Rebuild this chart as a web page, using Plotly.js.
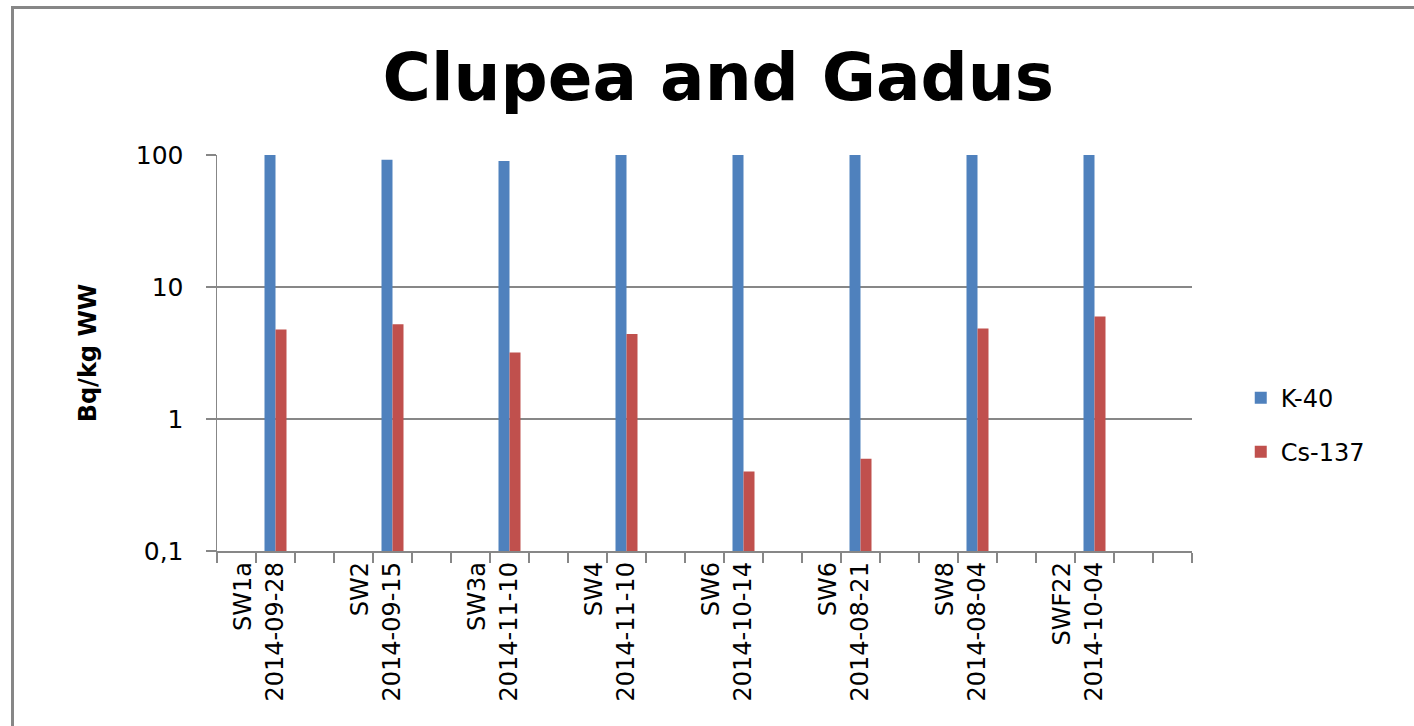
<!DOCTYPE html>
<html>
<head>
<meta charset="utf-8">
<script src="https://cdn.plot.ly/plotly-3.0.1.min.js"></script>
<style>
html, body { margin: 0; padding: 0; background: #fff; overflow: hidden; }
#wrap { position: relative; width: 1414px; height: 726px; }
#chart { position: absolute; left: 0; top: 0; width: 1414px; height: 726px; }
#frame { position: absolute; left: 11px; top: 6px; width: 2000px; height: 2000px; border: 3px solid #878787; pointer-events: none; }
</style>
</head>
<body>
<div id="wrap">
  <div id="chart"></div>
  <div id="frame"></div>
</div>
<script>
// ---- data ----
const sites = ["SW1a", "SW2", "SW3a", "SW4", "SW6", "SW6", "SW8", "SWF22"];
const dates = ["2014-09-28", "2014-09-15", "2014-11-10", "2014-11-10", "2014-10-14", "2014-08-21", "2014-08-04", "2014-10-04"];
const k40   = [110, 92, 90, 115, 120, 118, 105, 112];
const cs137 = [4.76, 5.22, 3.19, 4.41, 0.40, 0.50, 4.85, 5.97];
const seriesNames = ["K-40", "Cs-137"];
const seriesColors = ["#4F81BD", "#C0504D"];
const yTickVals = [0.1, 1, 10, 100];
const yTickText = ["0,1", "1", "10", "100"];
const chartTitle = "Clupea and Gadus";
const yTitle = "Bq/kg WW";

// category slots: each sample occupies one slot, followed by empty slots
const slotsPerGroup = 3;
const totalSlots = 25;
const xPos = sites.map((s, i) => i * slotsPerGroup + 1);
const tickLabels = sites.map((s, i) => s + "<br>" + dates[i]);

const FONT = "DejaVu Sans, sans-serif";
const GRID = "#878787";

const traces = [
  { type: "bar", x: xPos, y: k40, name: seriesNames[0], legendgroup: "a",
    marker: { color: seriesColors[0] } },
  { type: "bar", x: xPos, y: cs137, name: seriesNames[1], legendgroup: "b",
    marker: { color: seriesColors[1] } }
];

const layout = {
  width: 1414, height: 726,
  margin: { l: 217, r: 222, t: 155, b: 175, pad: 0 },
  paper_bgcolor: "#ffffff", plot_bgcolor: "#ffffff",
  font: { family: FONT, color: "#000000", size: 24 },
  title: { text: "<b>" + chartTitle + "</b>", font: { family: FONT, size: 66, color: "#000" },
           x: 0.508, xanchor: "center", y: 1 - 77 / 726, yref: "container", yanchor: "middle" },
  barmode: "group", bargap: 0.812, bargroupgap: 0,
  showlegend: true,
  legend: { x: 1.05, xanchor: "left", y: 0.443, yanchor: "top", tracegroupgap: 20,
            font: { family: FONT, size: 24, color: "#000" }, bgcolor: "rgba(0,0,0,0)" },
  xaxis: {
    type: "linear", range: [-0.5, totalSlots - 0.5], fixedrange: true,
    tickmode: "array", tickvals: xPos.map(v => v - 0.42), ticktext: tickLabels,
    tickangle: -90, ticks: "", showgrid: false, zeroline: false,
    showline: true, linecolor: GRID, linewidth: 1.5,
    tickfont: { family: FONT, size: 24, color: "#000" },
    minor: { tickmode: "linear", tick0: -0.5, dtick: 1, ticks: "outside", ticklen: 10,
             tickcolor: GRID, tickwidth: 1.5, showgrid: false }
  },
  yaxis: {
    type: "log", range: [-1, 2], fixedrange: true,
    tickmode: "array", tickvals: yTickVals, ticktext: yTickText,
    ticks: "outside", ticklen: 10, tickcolor: GRID, tickwidth: 1.5,
    ticklabelstandoff: 17,
    showgrid: true, gridcolor: GRID, gridwidth: 1.5, zeroline: false,
    showline: true, linecolor: GRID, linewidth: 1.5,
    tickfont: { family: FONT, size: 25, color: "#000" },
    title: { text: "<b>" + yTitle + "</b>", font: { family: FONT, size: 24, color: "#000" }, standoff: 32 }
  }
};

Plotly.newPlot("chart", traces, layout, { staticPlot: true, displayModeBar: false });
</script>
</body>
</html>
